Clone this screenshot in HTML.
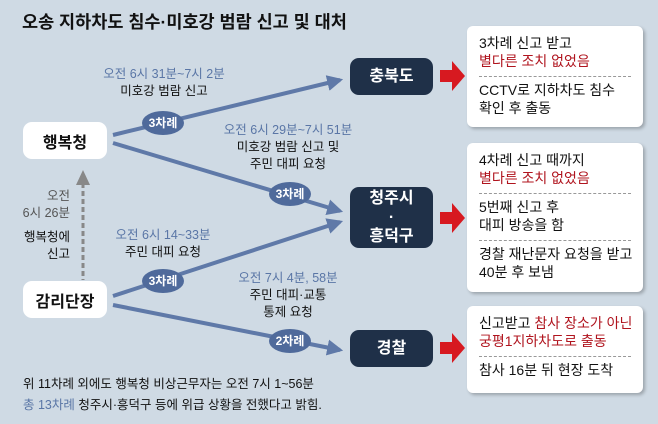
<!DOCTYPE html>
<html><head><meta charset="utf-8"><style>
body{margin:0;width:658px;height:424px;background:#cfdae4;font-family:"Liberation Sans","Noto Sans CJK KR",sans-serif;position:relative;overflow:hidden}
.a{position:absolute;white-space:nowrap}
.dk{position:absolute;background:#1f3048;color:#fff;border-radius:9px;font-weight:bold;font-size:16px;display:flex;align-items:center;justify-content:center;text-align:center;line-height:19px}
.wh{position:absolute;background:#fff;border-radius:9px;font-weight:bold;font-size:16px;display:flex;align-items:center;justify-content:center;color:#111}
.box{position:absolute;left:467px;width:176px;background:#fff;border-radius:6px;box-shadow:2px 2px 3px rgba(0,0,0,.25);font-size:14px;line-height:18px;color:#111}
.box div{padding:4px 10px 6px 12px}
.box hr{border:0;border-top:1px dashed #999;margin:0 12px}
.r{color:#b0141e}
.b{color:#5a76a6}
.c{position:absolute;font-size:12.5px;text-align:center;color:#111;line-height:17px;transform:translateX(-50%);white-space:nowrap}
</style></head><body>
<div class="a" style="left:22px;top:9px;font-size:17.5px;font-weight:bold;color:#111">오송 지하차도 침수·미호강 범람 신고 및 대처</div>
<svg class="a" style="left:0;top:0" width="658" height="424">
<defs><marker id="m" viewBox="0 0 10 10" refX="8" refY="5" markerWidth="4" markerHeight="4" orient="auto"><path d="M0,0L10,5L0,10z" fill="#5f79a8"/></marker></defs>
<g stroke="#5f79a8" stroke-width="4" fill="none" marker-end="url(#m)">
<line x1="113" y1="135" x2="340" y2="80"/>
<line x1="113" y1="143" x2="340" y2="211"/>
<line x1="113" y1="296" x2="340" y2="222"/>
<line x1="113" y1="305" x2="340" y2="350"/>
</g>
<line x1="83" y1="183" x2="83" y2="280" stroke="#888" stroke-width="3" stroke-dasharray="5,3"/>
<path d="M76,185L83,170L90,185z" fill="#888"/>
<g fill="#4f6a9b"><ellipse cx="163" cy="123" rx="21" ry="12"/><ellipse cx="290" cy="194" rx="21" ry="12"/><ellipse cx="163" cy="281" rx="21" ry="12"/><ellipse cx="290" cy="341" rx="21" ry="12"/></g>
<g fill="#fff" font-size="12" font-weight="bold" text-anchor="middle" font-family="Liberation Sans,Noto Sans CJK KR,sans-serif"><text x="163" y="127">3차례</text><text x="290" y="198">3차례</text><text x="163" y="285">3차례</text><text x="290" y="345">2차례</text></g>
<g fill="#d71920"><path d="M440,70h12v-9l13,15l-13,15v-9h-12z"/><path d="M440,212h12v-9l13,15l-13,15v-9h-12z"/><path d="M440,342h12v-9l13,15l-13,15v-9h-12z"/></g>
</svg>
<div class="dk" style="left:350px;top:58px;width:83px;height:37px">충북도</div>
<div class="dk" style="left:350px;top:187px;width:83px;height:61px">청주시<br>·<br>흥덕구</div>
<div class="dk" style="left:350px;top:330px;width:83px;height:37px">경찰</div>
<div class="wh" style="left:23px;top:122px;width:84px;height:37px">행복청</div>
<div class="wh" style="left:23px;top:281px;width:84px;height:37px">감리단장</div>
<div class="c" style="left:164px;top:66px"><span class="b">오전 6시 31분~7시 2분</span><br>미호강 범람 신고</div>
<div class="c" style="left:288px;top:122px"><span class="b">오전 6시 29분~7시 51분</span><br>미호강 범람 신고 및<br>주민 대피 요청</div>
<div class="c" style="left:163px;top:227px"><span class="b">오전 6시 14~33분</span><br>주민 대피 요청</div>
<div class="c" style="left:288px;top:270px"><span class="b">오전 7시 4분, 58분</span><br>주민 대피·교통<br>통제 요청</div>
<div class="a" style="right:588px;top:188px;font-size:12.5px;line-height:17px;text-align:right;color:#555">오전<br>6시 26분</div>
<div class="a" style="right:588px;top:229px;font-size:12.5px;line-height:17px;text-align:right;color:#111">행복청에<br>신고</div>
<div class="a" style="left:23px;top:374px;font-size:12.5px;line-height:21px;color:#111">위 11차례 외에도 행복청 비상근무자는 오전 7시 1~56분<br><span class="b">총 13차례</span> 청주시·흥덕구 등에 위급 상황을 전했다고 밝힘.</div>
<div class="box" style="top:26px;height:101px"><div style="padding-top:8px">3차례 신고 받고<br><span class="r">별다른 조치 없었음</span></div><hr><div>CCTV로 지하차도 침수<br>확인 후 출동</div></div>
<div class="box" style="top:143px;height:149px"><div style="padding-top:8px">4차례 신고 때까지<br><span class="r">별다른 조치 없었음</span></div><hr><div>5번째 신고 후<br>대피 방송을 함</div><hr><div>경찰 재난문자 요청을 받고<br>40분 후 보냄</div></div>
<div class="box" style="top:306px;height:87px"><div style="padding-top:8px">신고받고 <span class="r">참사 장소가 아닌<br>궁평1지하차도로 출동</span></div><hr><div>참사 16분 뒤 현장 도착</div></div>
</body></html>
